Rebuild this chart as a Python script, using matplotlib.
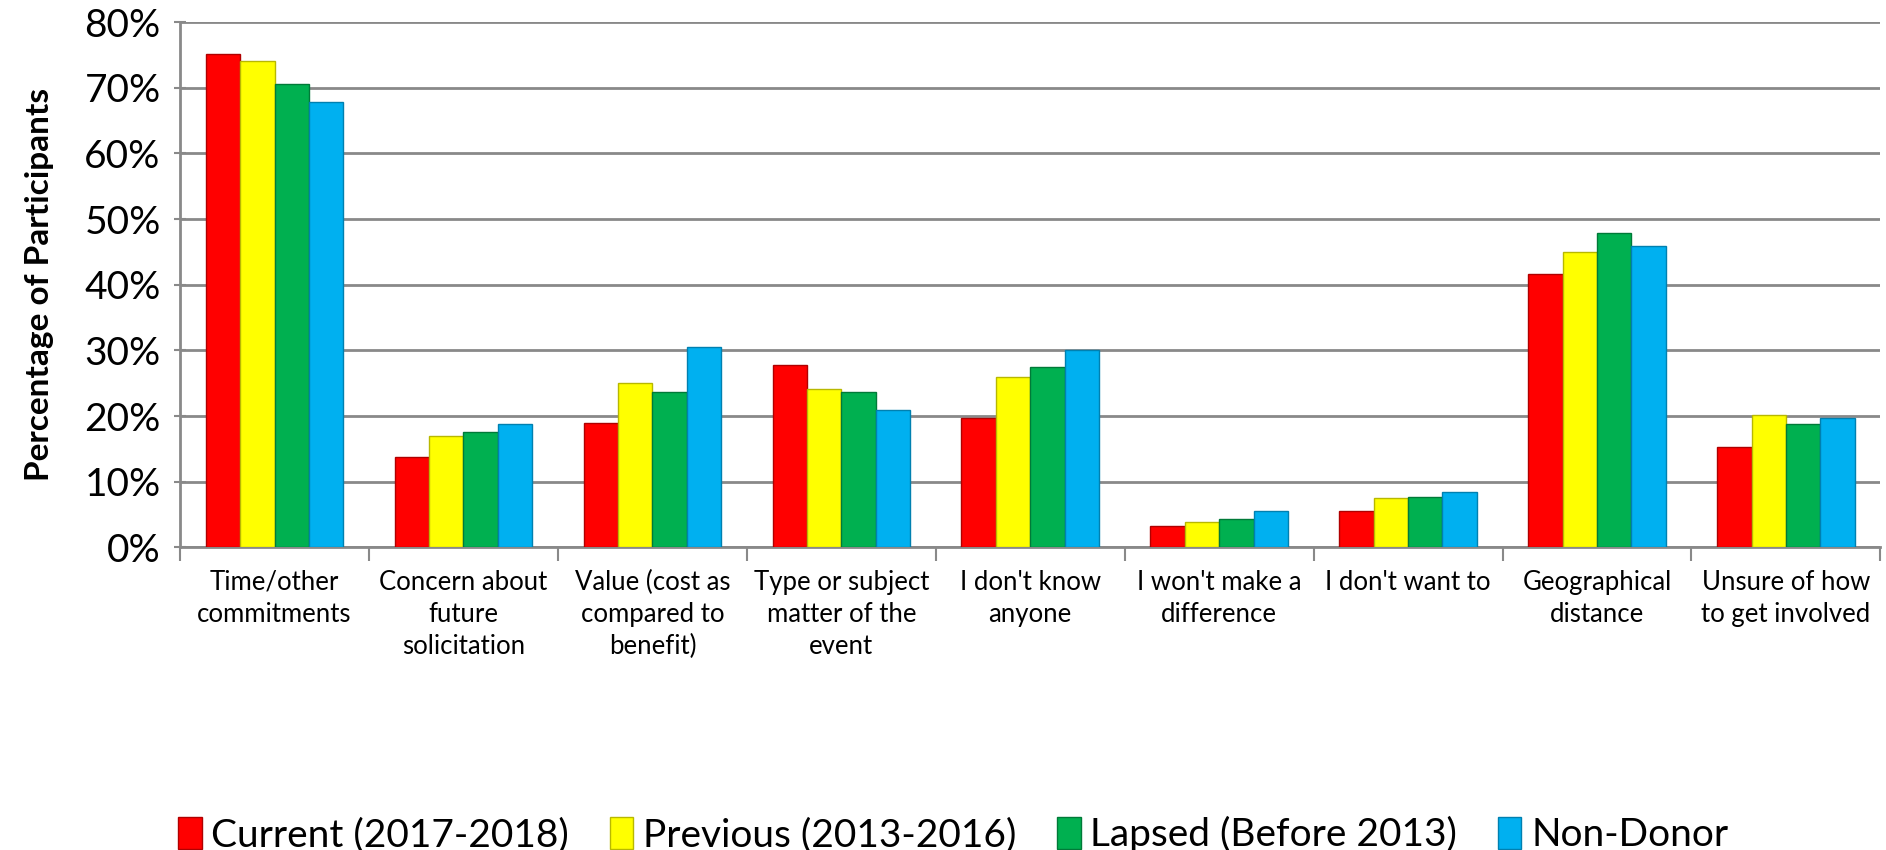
import numpy as np
import matplotlib.pyplot as plt
from matplotlib.patches import Patch

categories = ["Time/other\ncommitments", "Concern about\nfuture\nsolicitation",
              "Value (cost as\ncompared to\nbenefit)", "Type or subject\nmatter of the\nevent",
              "I don't know\nanyone", "I won't make a\ndifference", "I don't want to",
              "Geographical\ndistance", "Unsure of how\nto get involved"]
series = ["Current (2017-2018)", "Previous (2013-2016)", "Lapsed (Before 2013)", "Non-Donor"]
current = [75.2, 13.7, 19.0, 27.8, 19.7, 3.3, 5.6, 41.7, 15.3]
previous = [74.0, 17.0, 25.0, 24.1, 25.9, 3.8, 7.5, 45.0, 20.1]
lapsed = [70.6, 17.5, 23.7, 23.6, 27.4, 4.4, 7.7, 47.9, 18.8]
non_donor = [67.8, 18.8, 30.5, 21.0, 30.0, 5.6, 8.5, 45.9, 19.7]
colors = ["#FF0000", "#FFFF00", "#00B050", "#00B0F0"]
edges = ["#B00000", "#B8B800", "#007A38", "#0080B0"]

fig = plt.figure(figsize=(18.86, 8.5), dpi=100)
ax = fig.add_axes([0.0955, 0.356, 0.9015, 0.618])

x = np.arange(len(categories))
w = 0.182
data = [current, previous, lapsed, non_donor]
for i, vals in enumerate(data):
    ax.bar(x + (i - 1.5) * w, vals, width=w, color=colors[i], edgecolor=edges[i],
           linewidth=1, zorder=3)

ax.set_xlim(-0.5, len(categories) - 0.5)
ax.set_ylim(0, 80)
ax.set_yticks(np.arange(0, 81, 10))
ax.set_yticklabels([f"{v}%" for v in range(0, 81, 10)], fontsize=28, family='Lato')
ax.yaxis.grid(True, color='#898989', linewidth=2, zorder=0)
ax.tick_params(axis='y', length=8, width=1.5, color='#898989', pad=10, direction='inout')

ax.set_xticks(x)
ax.set_xticklabels(categories, fontsize=18.5, family='Lato', linespacing=1.35)
ax.tick_params(axis='x', length=0, pad=16)
ax.set_xticks(np.arange(-0.5, len(categories), 1), minor=True)
ax.tick_params(axis='x', which='minor', length=10, width=1.5, color='#898989')

for s in ['top', 'right']:
    ax.spines[s].set_visible(False)
for s in ['left', 'bottom']:
    ax.spines[s].set_color('#898989')
    ax.spines[s].set_linewidth(2)

ax.set_ylabel("Percentage of Participants", fontsize=24, fontweight='bold',
              family='Lato', labelpad=22)

handles = [Patch(facecolor=colors[i], edgecolor=edges[i]) for i in range(4)]
fig.legend(handles, series, loc='lower left', bbox_to_anchor=(0.076, -0.045), ncol=4,
           frameon=False, prop={'family': 'Lato', 'size': 28},
           handlelength=0.6, handleheight=0.9, handletextpad=0.25, columnspacing=1.05)

fig.savefig("out.png", dpi=100)
